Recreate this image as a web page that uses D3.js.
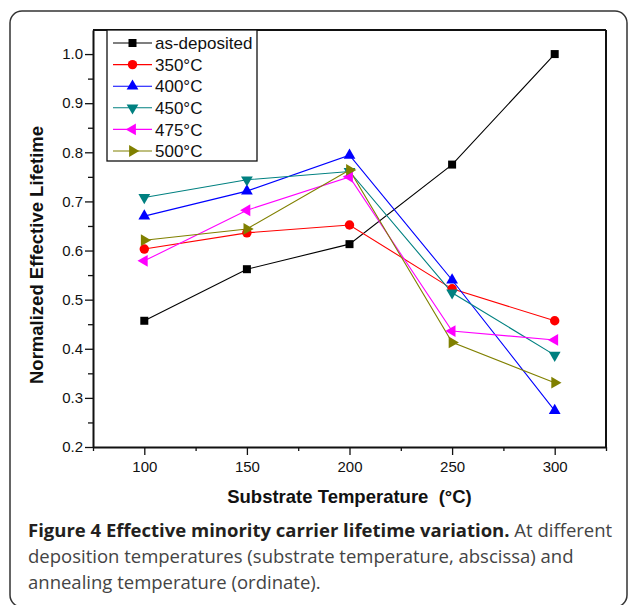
<!DOCTYPE html>
<html>
<head>
<meta charset="utf-8">
<script src="https://cdn.jsdelivr.net/npm/d3@7/dist/d3.min.js"></script>
<style>
  body { margin: 0; background: #fff; }
  svg { display: block; }
</style>
</head>
<body>
<div id="chart"></div>
<script>
// substrate temperatures (x)
var temps = [100, 150, 200, 250, 300];

// series names and values
var seriesNames = ["as-deposited", "350\u00b0C", "400\u00b0C", "450\u00b0C", "475\u00b0C", "500\u00b0C"];
var asDeposited = [0.457, 0.562, 0.613, 0.775, 1.0];
var t350 = [0.603, 0.636, 0.652, 0.522, 0.457];
var t400 = [0.670, 0.721, 0.794, 0.540, 0.274];
var t450 = [0.708, 0.744, 0.761, 0.514, 0.387];
var t475 = [0.579, 0.682, 0.750, 0.436, 0.418];
var t500 = [0.621, 0.644, 0.764, 0.413, 0.331];

var yTicks = [0.2, 0.3, 0.4, 0.5, 0.6, 0.7, 0.8, 0.9, 1.0];
var xTicks = [100, 150, 200, 250, 300];

var colors = ["#000000", "#ff0000", "#0000ff", "#008080", "#ff00ff", "#808000"];
var symbols = [d3.symbolSquare, d3.symbolCircle, d3.symbolTriangle, d3.symbolTriangle, d3.symbolTriangle, d3.symbolTriangle];
var rotations = [0, 0, 0, 180, -90, 90];
var sizes = [64, 70, 60, 60, 60, 60];

var values = [asDeposited, t350, t400, t450, t475, t500];
var series = seriesNames.map(function(name, i) {
    return {
        name: name,
        color: colors[i],
        symbol: symbols[i],
        rot: rotations[i],
        size: sizes[i],
        points: temps.map(function(t, j) { return { x: t, y: values[i][j] }; })
    };
});

var W = 629, H = 605;
var margin = { top: 30, right: 23, bottom: 158, left: 93 };
var width = W - margin.left - margin.right;
var height = H - margin.top - margin.bottom;

var root = d3.select("#chart").append("svg")
    .attr("width", W)
    .attr("height", H);

// rounded outer frame
root.append("rect")
    .attr("x", 10).attr("y", 11)
    .attr("width", 617).attr("height", 596)
    .attr("rx", 12).attr("ry", 12)
    .attr("fill", "none")
    .attr("stroke", "#333")
    .attr("stroke-width", 1.5);

var svg = root.append("g")
    .attr("transform", "translate(" + margin.left + "," + margin.top + ")");

var x = d3.scaleLinear().domain([75, 325]).range([0, width]);
var y = d3.scaleLinear().domain([0.2, 1.049]).range([height, 0]);

var axisFont = "Arial, 'Liberation Sans', Helvetica, sans-serif";

// y axis
var yAxis = svg.append("g")
    .call(d3.axisLeft(y).tickValues(yTicks).tickFormat(d3.format(".1f")).tickSize(8).tickSizeOuter(0));
svg.append("g")
    .call(d3.axisLeft(y).tickValues(d3.range(0.25, 1.04, 0.1)).tickFormat("").tickSize(5).tickSizeOuter(0))
    .select(".domain").remove();

// x axis
var xAxis = svg.append("g")
    .attr("transform", "translate(0," + height + ")")
    .call(d3.axisBottom(x).tickValues(xTicks).tickSize(8).tickSizeOuter(0).tickPadding(6));
svg.append("g")
    .attr("transform", "translate(0," + height + ")")
    .call(d3.axisBottom(x).tickValues([75, 125, 175, 225, 275, 325]).tickFormat("").tickSize(4).tickSizeOuter(0))
    .select(".domain").remove();

svg.selectAll("g").attr("font-family", axisFont);
svg.selectAll(".tick text")
    .attr("font-family", axisFont)
    .attr("font-size", 15)
    .attr("fill", "#111");
yAxis.selectAll(".tick text").attr("x", -10);
svg.selectAll(".tick line").attr("stroke", "#111").attr("stroke-width", 1.3);
svg.selectAll(".domain").attr("stroke", "#111").attr("stroke-width", 2);

// top and right frame lines
svg.append("line").attr("x1", 0).attr("x2", width).attr("y1", 0).attr("y2", 0)
    .attr("stroke", "#111").attr("stroke-width", 2);
svg.append("line").attr("x1", width).attr("x2", width).attr("y1", 0).attr("y2", height)
    .attr("stroke", "#111").attr("stroke-width", 2);

// lines
var line = d3.line().x(function(d) { return x(d.x); }).y(function(d) { return y(d.y); });

series.forEach(function(s) {
    svg.append("path")
        .datum(s.points)
        .attr("fill", "none")
        .attr("stroke", s.color)
        .attr("stroke-width", 1.1)
        .attr("d", line);
});

series.forEach(function(s) {
    svg.selectAll(null)
        .data(s.points)
        .enter()
        .append("path")
        .attr("d", d3.symbol().type(s.symbol).size(s.size))
        .attr("transform", function(d) { return "translate(" + x(d.x) + "," + y(d.y) + ") rotate(" + s.rot + ")"; })
        .attr("fill", s.color);
});

// legend
var legend = svg.append("g").attr("transform", "translate(14,0)");
legend.append("rect")
    .attr("x", 0).attr("y", 0)
    .attr("width", 150).attr("height", 131)
    .attr("fill", "#fff")
    .attr("stroke", "#111")
    .attr("stroke-width", 1.3);

var items = legend.selectAll(".item")
    .data(series)
    .enter()
    .append("g")
    .attr("class", "item")
    .attr("transform", function(d, i) { return "translate(0," + (13 + i * 21.6) + ")"; });

items.append("line")
    .attr("x1", 6).attr("x2", 45)
    .attr("stroke", function(d) { return d.color; })
    .attr("stroke-width", 1.1);
items.append("path")
    .attr("d", function(d) { return d3.symbol().type(d.symbol).size(d.size)(); })
    .attr("transform", function(d) { return "translate(25.5,0) rotate(" + d.rot + ")"; })
    .attr("fill", function(d) { return d.color; });
items.append("text")
    .attr("x", 48)
    .attr("y", 0)
    .attr("dy", "0.36em")
    .attr("font-family", axisFont)
    .attr("font-size", 17)
    .attr("fill", "#111")
    .text(function(d) { return d.name; });

// axis titles
svg.append("text")
    .attr("transform", "translate(-50," + (255 - margin.top) + ") rotate(-90)")
    .attr("text-anchor", "middle")
    .attr("font-family", axisFont)
    .attr("font-size", 18.5)
    .attr("font-weight", "bold")
    .attr("fill", "#111")
    .text("Normalized Effective Lifetime");

svg.append("text")
    .attr("x", width / 2)
    .attr("y", 503 - margin.top)
    .attr("text-anchor", "middle")
    .attr("font-family", axisFont)
    .attr("font-size", 18.5)
    .attr("font-weight", "bold")
    .attr("fill", "#111")
    .text("Substrate Temperature \u00a0(\u00b0C)");

// caption
var caption = root.append("text")
    .attr("font-family", "'Open Sans', sans-serif")
    .attr("font-size", 18.5)
    .attr("fill", "#444");
var l1 = caption.append("tspan").attr("x", 28).attr("y", 537);
l1.append("tspan").attr("font-weight", "bold").attr("fill", "#231f20")
    .text("Figure 4 Effective minority carrier lifetime variation.");
l1.append("tspan").text(" At different");
caption.append("tspan").attr("x", 28).attr("y", 563)
    .text("deposition temperatures (substrate temperature, abscissa) and");
caption.append("tspan").attr("x", 28).attr("y", 589)
    .text("annealing temperature (ordinate).");
</script>
</body>
</html>
